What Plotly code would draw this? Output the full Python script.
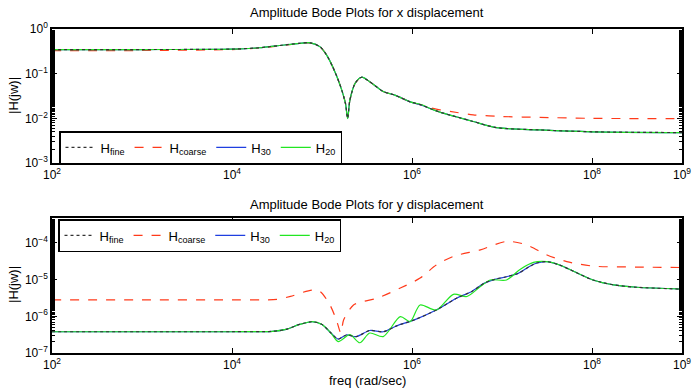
import plotly.graph_objects as go

# ---------------- data (log10 of frequency, value) ----------------
# Top plot: x displacement
x_top_f = [2.0, 3.0, 4.0, 4.3, 4.53, 4.75, 4.87, 4.98, 5.05, 5.12, 5.2, 5.26, 5.285, 5.31, 5.37, 5.44,
           5.53, 5.68, 5.81, 5.98, 6.1, 6.2, 6.31, 6.5, 6.68, 6.94, 7.42, 8.0, 9.0]
top_fine = [0.347, 0.347, 0.355, 0.380, 0.427, 0.479, 0.490, 0.398, 0.263, 0.141, 0.0562, 0.0219, 0.0100,
            0.0257, 0.0617, 0.0832, 0.0661, 0.0398, 0.0331, 0.0234, 0.0200, 0.0166, 0.0138, 0.0107,
            0.0085, 0.0062, 0.0055, 0.0050, 0.0048]
top_30 = list(top_fine)
top_20 = [0.347, 0.347, 0.355, 0.380, 0.427, 0.479, 0.490, 0.398, 0.263, 0.141, 0.0562, 0.0219, 0.0098,
          0.0257, 0.0617, 0.0832, 0.0661, 0.0398, 0.0331, 0.0234, 0.0204, 0.0166, 0.0138, 0.0107,
          0.0085, 0.0062, 0.0055, 0.0050, 0.0048]
x_top_c = [2.0, 3.0, 4.0, 4.3, 4.53, 4.75, 4.87, 4.98, 5.05, 5.12, 5.2, 5.26, 5.285, 5.31, 5.37, 5.44,
           5.53, 5.68, 5.81, 5.98, 6.1, 6.2, 6.31, 6.5, 6.68, 7.0, 7.42, 8.0, 9.0]
top_coarse = [0.327, 0.330, 0.347, 0.375, 0.420, 0.472, 0.485, 0.398, 0.263, 0.141, 0.0562, 0.0219,
              0.0105, 0.0257, 0.0617, 0.0832, 0.0661, 0.0398, 0.0331, 0.0234, 0.0200, 0.0174, 0.0155,
              0.0135, 0.0120, 0.0110, 0.0105, 0.0100, 0.0098]

# Bottom plot: y displacement
x_bot_f = [2.0, 3.0, 4.0, 4.45, 4.6, 4.75, 4.89, 5.0, 5.1, 5.18, 5.27, 5.38, 5.53, 5.68, 5.83, 6.02,
           6.27, 6.5, 6.66, 6.8, 6.92, 7.05, 7.18, 7.3, 7.38, 7.5, 7.64, 7.8, 8.01, 8.24, 8.5, 9.0]
bot_fine = [3.8e-7, 3.8e-7, 3.8e-7, 3.9e-7, 4.4e-7, 6.0e-7, 7.1e-7, 6.0e-7, 3.5e-7, 2.4e-7, 3.1e-7,
            2.8e-7, 4.1e-7, 3.8e-7, 5.5e-7, 7.9e-7, 1.48e-6, 3.16e-6, 4.7e-6, 7.9e-6, 1.02e-5, 1.2e-5,
            1.48e-5, 2.24e-5, 2.8e-5, 3.09e-5, 2.5e-5, 1.66e-5, 9.8e-6, 7.2e-6, 6.2e-6, 5.5e-6]
bot_30 = list(bot_fine)
x_bot_20 = [2.0, 3.0, 4.0, 4.45, 4.6, 4.75, 4.89, 5.0, 5.1, 5.18, 5.31, 5.42, 5.53, 5.68, 5.87, 5.98,
            6.09, 6.27, 6.46, 6.61, 6.76, 6.87, 7.05, 7.2, 7.35, 7.5, 7.64, 7.8, 8.01, 8.24, 8.5, 9.0]
bot_20 = [3.8e-7, 3.8e-7, 3.8e-7, 3.9e-7, 4.4e-7, 6.0e-7, 7.2e-7, 6.0e-7, 3.5e-7, 2.05e-7, 3.16e-7,
          1.9e-7, 3.5e-7, 2.8e-7, 9.8e-7, 7.2e-7, 2.04e-6, 1.48e-6, 3.98e-6, 3.47e-6, 6.5e-6, 9.8e-6,
          9.8e-6, 1.9e-5, 2.95e-5, 3.09e-5, 2.5e-5, 1.66e-5, 9.8e-6, 7.2e-6, 6.2e-6, 5.5e-6]
x_bot_c = [2.0, 3.0, 4.0, 4.5, 4.65, 4.89, 4.98, 5.09, 5.16, 5.21, 5.24, 5.35, 5.45, 5.61, 5.87, 6.09,
           6.27, 6.46, 6.76, 7.05, 7.27, 7.5, 7.72, 8.01, 8.5, 9.0]
bot_coarse = [2.8e-6, 2.8e-6, 2.8e-6, 2.9e-6, 3.5e-6, 5.2e-6, 4.7e-6, 2.0e-6, 7.9e-7, 3.5e-7, 7.9e-7,
              2.04e-6, 2.5e-6, 3.1e-6, 5.9e-6, 1.1e-5, 2.5e-5, 4.3e-5, 6.5e-5, 1.1e-4, 8.9e-5, 4.7e-5,
              3.1e-5, 2.34e-5, 2.2e-5, 2.14e-5]

x_ticks = [1e2, 1e4, 1e6, 1e8, 1e9]
x_tick_text = ["10<sup>2</sup>", "10<sup>4</sup>", "10<sup>6</sup>", "10<sup>8</sup>", "10<sup>9</sup>"]
y_top_ticks = [1e-3, 1e-2, 1e-1, 1e0]
y_top_text = ["10<sup>−3</sup>", "10<sup>−2</sup>", "10<sup>−1</sup>", "10<sup>0</sup>"]
y_bot_ticks = [1e-7, 1e-6, 1e-5, 1e-4]
y_bot_text = ["10<sup>−7</sup>", "10<sup>−6</sup>", "10<sup>−5</sup>", "10<sup>−4</sup>"]

titles = ["Amplitude Bode Plots for x displacement", "Amplitude Bode Plots for y displacement"]
names = ["H<sub>fine</sub>", "H<sub>coarse</sub>", "H<sub>30</sub>", "H<sub>20</sub>"]

# ---------------- styling ----------------
FONT = "Liberation Sans, Arial, Helvetica, sans-serif"
C_FINE = "#333333"
C_COARSE = "#ff3a1a"
C_30 = "#1f3fe0"
C_20 = "#22e622"

fig = go.Figure()

def tr(x, y, name, color, dash, xa, ya, leg, rank):
    fig.add_trace(go.Scatter(
        x=[10 ** v for v in x], y=y, name=name, mode="lines",
        line=dict(color=color, width=1.2, dash=dash, shape="spline", smoothing=0.8),
        xaxis=xa, yaxis=ya, legend=leg, legendrank=rank))

tr(x_top_c, top_coarse, names[1], C_COARSE, "dash", "x", "y", "legend", 2)
tr(x_top_f, top_30, names[2], C_30, "solid", "x", "y", "legend", 3)
tr(x_top_f, top_20, names[3], C_20, "solid", "x", "y", "legend", 4)
tr(x_top_f, top_fine, names[0], C_FINE, "dot", "x", "y", "legend", 1)

tr(x_bot_c, bot_coarse, names[1], C_COARSE, "dash", "x2", "y2", "legend2", 2)
tr(x_bot_f, bot_30, names[2], C_30, "solid", "x2", "y2", "legend2", 3)
tr(x_bot_20, bot_20, names[3], C_20, "solid", "x2", "y2", "legend2", 4)
tr(x_bot_f, bot_fine, names[0], C_FINE, "dot", "x2", "y2", "legend2", 1)

W, H = 692, 388
L, R = 52, 682
top_px = (29, 163)
bot_px = (218, 353)

def py(p):
    return 1 - p / H

axis_common = dict(type="log", showline=True, linecolor="black", linewidth=1.5, mirror="allticks",
                   ticks="inside", ticklen=5, tickcolor="black", tickwidth=1, showgrid=False,
                   zeroline=False, tickfont=dict(family=FONT, size=12, color="black"))

xa = dict(axis_common, range=[2, 9], tickvals=x_ticks, ticktext=x_tick_text, domain=[L / W, R / W])
leg_common = dict(orientation="h", xanchor="left", yanchor="top", itemwidth=30,
                  bgcolor="white", bordercolor="black", borderwidth=1.5,
                  font=dict(family=FONT, size=13), tracegroupgap=0)
fig.update_layout(
    width=W, height=H, margin=dict(l=0, r=0, t=0, b=0, pad=0, autoexpand=False),
    paper_bgcolor="white", plot_bgcolor="white",
    font=dict(family=FONT, size=12, color="black"),
    xaxis=dict(xa, anchor="y"),
    xaxis2=dict(xa, anchor="y2"),
    yaxis=dict(axis_common, range=[-3, 0], tickvals=y_top_ticks, ticktext=y_top_text,
               domain=[py(top_px[1]), py(top_px[0])], anchor="x",
               minor=dict(ticks="inside", ticklen=3, tickcolor="black", showgrid=False)),
    yaxis2=dict(axis_common, range=[-7, -3.32], tickvals=y_bot_ticks, ticktext=y_bot_text,
                domain=[py(bot_px[1]), py(bot_px[0])], anchor="x2",
                minor=dict(ticks="inside", ticklen=3, tickcolor="black", showgrid=False)),
    legend=dict(leg_common, x=59 / W, y=py(131)),
    legend2=dict(leg_common, x=58 / W, y=py(219)),
    showlegend=True,
)

def note(text, xp, yp, angle=0):
    return dict(text=text, x=xp / W, y=py(yp), xref="paper", yref="paper", showarrow=False,
                xanchor="center", yanchor="middle", textangle=angle,
                font=dict(family=FONT, size=13, color="black"))

ann = [
    note(titles[0], (L + R) / 2, 13),
    note(titles[1], (L + R) / 2, 204),
    note("freq (rad/sec)", (L + R) / 2, 380),
    note("|H(jw)|", 13, 96, -90),
    note("|H(jw)|", 13, 285, -90),
]
fig.update_layout(annotations=ann)

fig.write_html("out.html", post_script="document.body.style.margin='0';")
